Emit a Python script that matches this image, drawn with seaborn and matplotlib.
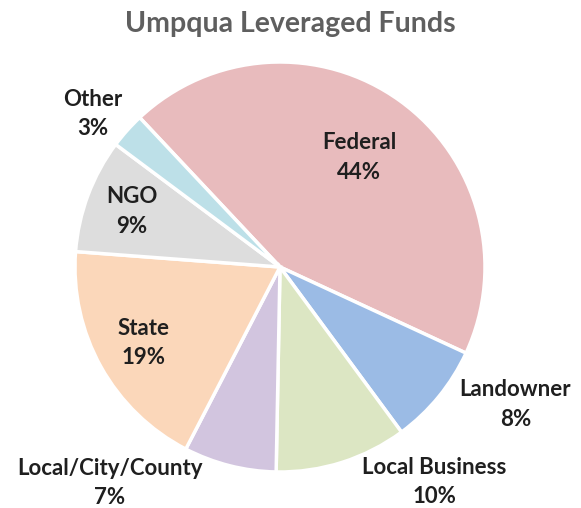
import numpy as np
import matplotlib.pyplot as plt
import seaborn as sns

sns.set_theme(style="white")
plt.rcParams['font.family'] = ['Lato', 'DejaVu Sans']

categories = ['Federal', 'Landowner', 'Local Business', 'Local/City/County', 'State', 'NGO', 'Other']
shares = [43.9, 8.0, 10.4, 7.3, 18.6, 9.0, 2.8]
colors = ['#E8BBBD', '#9BBBE5', '#DCE6C3', '#D2C5DF', '#FBD7BA', '#DDDDDD', '#BDE0E8']

# label layout: radial distance and angle nudge (deg) per slice
label_r = [0.66, 1.33, 1.29, 1.34, 0.76, 0.77, 1.18]
label_nudge = [0, 9, 18, -24, 0, 0, 2.5]

fig = plt.figure(figsize=(5.81, 5.08), dpi=100)
ax = fig.add_axes([0, 0, 1, 1])

wedges, _ = ax.pie(shares, colors=colors, startangle=133.2, counterclock=False,
                   radius=1.0, wedgeprops=dict(edgecolor='white', linewidth=2.5))

for w, name, val, r, nd in zip(wedges, categories, shares, label_r, label_nudge):
    mid = np.deg2rad((w.theta1 + w.theta2) / 2 + nd)
    ax.text(r * np.cos(mid), r * np.sin(mid), f'{name}\n{val:.0f}%',
            ha='center', va='center', fontsize=16, fontweight='bold',
            color='#1F1F1F', linespacing=1.5)

ax.set_xlim(-280 / 205, 301 / 205)
ax.set_ylim(-241 / 205, 267 / 205)
ax.set_aspect('auto')
ax.axis('off')

fig.text(0.5, 0.953, 'Umpqua Leveraged Funds', ha='center', va='center',
         fontsize=20.5, fontweight='bold', color='#5F5F5F')

plt.savefig('out.png', dpi=100)
plt.close()
